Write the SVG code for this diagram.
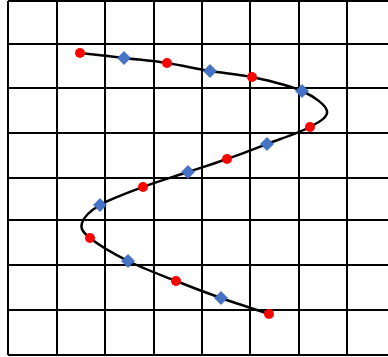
<svg xmlns="http://www.w3.org/2000/svg" width="388" height="357" viewBox="0 0 388 357">
<style>
.g{stroke:#000;stroke-width:2;fill:none}
.c{stroke:#000;stroke-width:2.5;fill:none}
.r{fill:#FF0000}
.d{fill:#4472C4;stroke:#3A64AE;stroke-width:0.8}
</style>
<defs>
<circle id="dot" r="5" class="r"/>
<path id="dia" d="M0,-6.5 L6.5,0 L0,6.5 L-6.5,0 Z" class="d"/>
</defs>
<rect width="388" height="357" fill="#fff"/>
<g id="grid">
<path class="g" d="M8,1V355M57,1V355M105,1V355M154,1V355M202,1V355M250,1V355M299,1V355M347,1V355"/>
<path class="g" d="M8,1H388M8,44H388M8,88H388M8,133H388M8,178H388M8,220H388M8,265H388M8,310H388M8,355H388"/>
</g>
<g id="connectors">
<path class="c" d="M80,53 C87.3,53.8 109.5,56.3 124,58 C138.5,59.7 152.7,60.8 167,63 C181.3,65.2 195.8,68.7 210,71 C224.2,73.3 236.7,73.7 252,77 C267.3,80.3 289.5,85.3 302,91 C314.5,96.7 325.7,105 327,111 C328.3,117 320,121.5 310,127 C300,132.5 280.8,138.7 267,144 C253.2,149.3 240.2,154.3 227,159 C213.8,163.7 202,167.3 188,172 C174,176.7 157.7,181.5 143,187 C128.3,192.5 110.2,199 100,205 C89.8,211 83.7,217.5 82,223 C80.3,228.5 82.3,231.7 90,238 C97.7,244.3 113.7,253.8 128,261 C142.3,268.2 160.5,274.8 176,281 C191.5,287.2 205.5,292.5 221,298 C236.5,303.5 261,311.3 269,314"/>
</g>
<g id="red-points">
<use href="#dot" x="80" y="53"/>
<use href="#dot" x="167" y="63"/>
<use href="#dot" x="252" y="77"/>
<use href="#dot" x="310" y="127"/>
<use href="#dot" x="227" y="159"/>
<use href="#dot" x="143" y="187"/>
<use href="#dot" x="90" y="238"/>
<use href="#dot" x="176" y="281"/>
<use href="#dot" x="269" y="314"/>
</g>
<g id="blue-points">
<use href="#dia" x="124" y="58"/>
<use href="#dia" x="210" y="71"/>
<use href="#dia" x="302" y="91"/>
<use href="#dia" x="267" y="144"/>
<use href="#dia" x="188" y="172"/>
<use href="#dia" x="100" y="205"/>
<use href="#dia" x="128" y="261"/>
<use href="#dia" x="221" y="298"/>
</g>
</svg>
